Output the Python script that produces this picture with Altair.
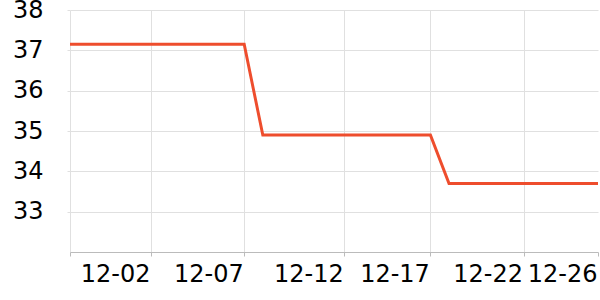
import altair as alt
import pandas as pd

# data
dates = [
    "2023-11-27T15:30:00Z",
    "2023-11-28T00:00:00Z", "2023-11-29T00:00:00Z", "2023-11-30T00:00:00Z",
    "2023-12-01T00:00:00Z", "2023-12-02T00:00:00Z", "2023-12-03T00:00:00Z",
    "2023-12-04T00:00:00Z", "2023-12-05T00:00:00Z", "2023-12-06T00:00:00Z",
    "2023-12-07T00:00:00Z", "2023-12-08T00:00:00Z", "2023-12-09T00:00:00Z",
    "2023-12-10T00:00:00Z", "2023-12-11T00:00:00Z", "2023-12-12T00:00:00Z",
    "2023-12-13T00:00:00Z", "2023-12-14T00:00:00Z", "2023-12-15T00:00:00Z",
    "2023-12-16T00:00:00Z", "2023-12-17T00:00:00Z", "2023-12-18T00:00:00Z",
    "2023-12-19T00:00:00Z", "2023-12-20T00:00:00Z", "2023-12-21T00:00:00Z",
    "2023-12-22T00:00:00Z", "2023-12-23T00:00:00Z", "2023-12-24T00:00:00Z",
    "2023-12-25T00:00:00Z", "2023-12-26T00:00:00Z",
]
values = [
    37.15,
    37.15, 37.15, 37.15, 37.15, 37.15, 37.15, 37.15, 37.15, 37.15, 37.15,
    34.9, 34.9, 34.9, 34.9, 34.9, 34.9, 34.9, 34.9, 34.9, 34.9,
    33.7, 33.7, 33.7, 33.7, 33.7, 33.7, 33.7, 33.7, 33.7,
]
y_ticks = [33, 34, 35, 36, 37, 38]
x_tick_dates = [
    (2023, 11, 27, 15, 30),
    (2023, 12, 2, 0, 0),
    (2023, 12, 7, 0, 0),
    (2023, 12, 12, 9, 0),
    (2023, 12, 17, 0, 0),
    (2023, 12, 22, 0, 0),
    (2023, 12, 26, 0, 0),
]

df = pd.DataFrame({"date": dates, "value": values})

x_vals = [alt.DateTime(year=a, month=b, date=c, hours=h, minutes=m, utc=True)
          for (a, b, c, h, m) in x_tick_dates]

chart = alt.Chart(df).mark_line(color="#ee4d2d", strokeWidth=3).encode(
    x=alt.X(
        "date:T",
        scale=alt.Scale(type="utc", domain=[x_vals[0], x_vals[-1]], nice=False),
        axis=alt.Axis(
            title=None,
            values=x_vals,
            format="%m-%d",
            labelExpr="utcdate(datum.value) == 27 ? '' : datum.label",
            labelAlign="right",
            labelOffset=-1,
            labelFont="DejaVu Sans",
            labelFontSize=24,
            labelColor="#000000",
            labelPadding=6,
            labelOverlap=False,
            labelFlush=False,
            tickSize=4,
            tickColor="#bbbbbb",
            domainColor="#bbbbbb",
            gridColor="#e0e0e0",
            gridOpacity={"condition": {"test": "utcdate(datum.value) == 26", "value": 0}, "value": 1},
        ),
    ),
    y=alt.Y(
        "value:Q",
        scale=alt.Scale(domain=[32, 38], nice=False, zero=False),
        axis=alt.Axis(
            title=None,
            values=y_ticks,
            labelFont="DejaVu Sans",
            labelFontSize=24,
            labelColor="#000000",
            labelPadding=24,
            tickSize=3,
            tickColor="#e0e0e0",
            domain=False,
            gridColor="#e0e0e0",
        ),
    ),
).properties(
    width=528,
    height=242,
    autosize=alt.AutoSizeParams(type="none"),
    padding={"left": 70, "top": 10, "right": 2, "bottom": 48},
).configure_view(stroke=None)

chart.save("out.html", embed_options={"renderer": "svg", "actions": False})
